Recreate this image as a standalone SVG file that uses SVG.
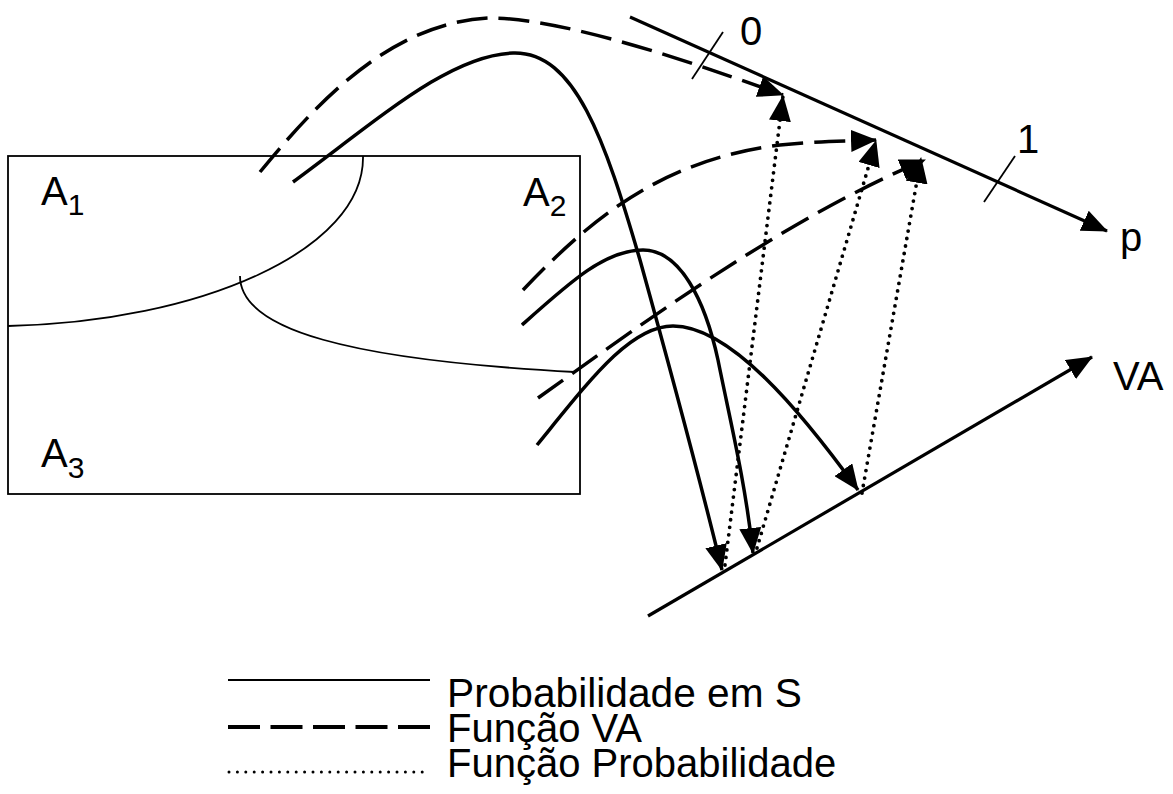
<svg xmlns="http://www.w3.org/2000/svg" width="1173" height="794" viewBox="0 0 1173 794">
<style>
text{font-family:"Liberation Sans",Arial,sans-serif;fill:#000}
.lbl{font-size:40px}
.sub{font-size:30px}
.leg{font-size:40px}
.thin{fill:none;stroke:#000;stroke-width:1.8}
.solid{fill:none;stroke:#000;stroke-width:3.5}
.dash{fill:none;stroke:#000;stroke-width:3.5;stroke-dasharray:31 11}
.dot{fill:none;stroke:#000;stroke-width:3.8;stroke-dasharray:0 7.6;stroke-linecap:round}
.axis{fill:none;stroke:#000;stroke-width:3.2}
</style>
<defs>
<marker id="ah" viewBox="0 0 26 22" refX="25" refY="11" markerWidth="26" markerHeight="22" orient="auto" markerUnits="userSpaceOnUse">
<path d="M0,0 L26,11 L0,22 z" fill="#000"/>
</marker>
</defs>
<rect width="1173" height="794" fill="#fff"/>

<g id="sample-space">
<rect x="8" y="156" width="572" height="338" class="thin"/>
<path d="M8,326 C200,322 365,250 363,156" class="thin"/>
<path d="M240,276 C240,330 350,360 575,372" class="thin"/>
<text class="lbl" x="41" y="205">A<tspan class="sub" dy="10">1</tspan></text>
<text class="lbl" x="523" y="206">A<tspan class="sub" dy="10">2</tspan></text>
<text class="lbl" x="41" y="467">A<tspan class="sub" dy="11">3</tspan></text>
</g>

<g id="axis-p">
<line x1="630" y1="17" x2="1107" y2="231" class="axis" marker-end="url(#ah)"/>
<line x1="692" y1="79" x2="723" y2="32" class="thin"/>
<line x1="984" y1="202" x2="1015" y2="156" class="thin"/>
<text class="lbl" x="740" y="45">0</text>
<text class="lbl" x="1017" y="153">1</text>
<text class="lbl" x="1120" y="251">p</text>
</g>

<g id="axis-va">
<line x1="648" y1="616" x2="1092" y2="357" class="axis" marker-end="url(#ah)"/>
<text class="lbl" x="1113" y="390">VA</text>
</g>

<g id="connectors">
<path d="M260,172 C315,105 390,22 490,18 C565,18 700,65 783,95" class="dash" marker-end="url(#ah)"/>
<path d="M523,290 C590,220 660,160 780,145 C820,141 850,141 876,140" class="dash" marker-end="url(#ah)"/>
<path d="M538,398 C620,340 780,220 925,160" class="dash" marker-end="url(#ah)"/>
<path d="M293,182 C380,118 450,55 513,53 C575,51 605,140 640,260 C665,350 700,480 722,570" class="solid" marker-end="url(#ah)"/>
<path d="M522,325 C570,282 605,250 643,250 C680,250 705,300 718,360 C730,420 745,480 753,553" class="solid" marker-end="url(#ah)"/>
<path d="M537,445 C590,380 630,326 673,326 C730,326 800,410 858,490" class="solid" marker-end="url(#ah)"/>
<path d="M725,565 L783,96" class="dot" marker-end="url(#ah)"/>
<path d="M757,548 L876,141" class="dot" marker-end="url(#ah)"/>
<path d="M862,493 L921,158" class="dot" marker-end="url(#ah)"/>
</g>

<g id="legend">
<line x1="228" y1="680" x2="430" y2="680" class="thin"/>
<line x1="228" y1="727" x2="430" y2="727" style="stroke:#000;stroke-width:4;stroke-dasharray:32 10.5"/>
<line x1="229" y1="772" x2="424" y2="772" style="stroke:#000;stroke-width:3;stroke-dasharray:0 8.4;stroke-linecap:round"/>
<text class="leg" x="447" y="707" textLength="355" lengthAdjust="spacingAndGlyphs">Probabilidade em S</text>
<text class="leg" x="447" y="742">Função VA</text>
<text class="leg" x="447" y="777">Função Probabilidade</text>
</g>
</svg>
